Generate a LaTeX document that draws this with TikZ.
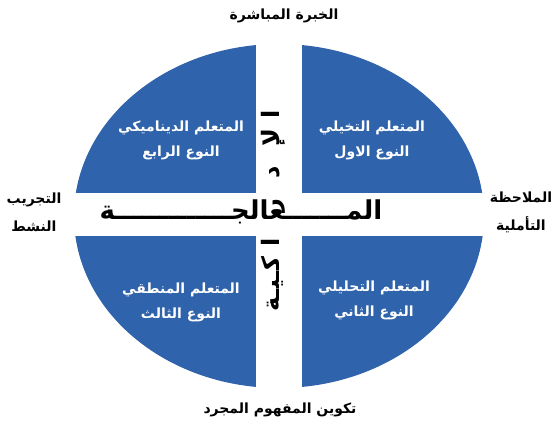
\documentclass[tikz,border=0pt]{standalone}
\usepackage{fontspec}
\newfontfamily\arabicfont[Script=Arabic]{DejaVu Sans}
\TeXXeTstate=1
\newcommand{\artxt}[1]{\beginR #1\endR}
\definecolor{kolbblue}{RGB}{47,99,171}

\begin{document}
\begin{tikzpicture}[
	x=1pt, y=-1pt,
	every node/.style={font=\arabicfont\bfseries, inner sep=1pt},
	quad/.style={fill=kolbblue},
	learner/.style={text=white, align=center, font=\arabicfont\bfseries\fontsize{14}{25}\selectfont},
	pole/.style={text=black, align=center, font=\arabicfont\bfseries\fontsize{14}{28}\selectfont},
	bigword/.style={text=black, font=\arabicfont\bfseries\fontsize{26}{28}\selectfont}
	]
	
	\useasboundingbox (0,0) rectangle (551,427);
	
	% ellipse split by a white cross
	\fill[quad] (279,216) ellipse [x radius=205pt, y radius=172pt];
	\fill[white] (256,0) rectangle (302,427);
	\fill[white] (0,193) rectangle (551,236);
	
	% four learner types
	\node[learner] (type1) at (372,140) {\artxt{المتعلم التخيلي}\\\artxt{النوع الاول}};
	\node[learner] (type4) at (181,140) {\artxt{المتعلم الديناميكي}\\\artxt{النوع الرابع}};
	\node[learner] (type3) at (181,302) {\artxt{المتعلم المنطقي}\\\artxt{النوع الثالث}};
	\node[learner] (type2) at (374,300) {\artxt{المتعلم التحليلي}\\\artxt{النوع الثاني}};
	
	% the four poles
	\node[pole] (concrete) at (284,16) {\artxt{الخبرة المباشرة}};
	\node[pole] (abstract) at (280,410) {\artxt{تكوين المفهوم المجرد}};
	\node[pole] (active) at (34,212) {\artxt{التجريب}\\\artxt{النشط}};
	\node[pole] (reflect) at (521,212) {\artxt{الملاحظة}\\\artxt{التأملية}};
	
	% processing axis words
	\node[bigword] (process) at (241,212) {\artxt{المـــــــعالجـــــــــــــة}};
	\node[bigword, font=\arabicfont\bfseries\fontsize{24}{26}\selectfont, rotate=90] (percept) at (273,211)
	{\artxt{ا\hspace{10pt}لإ\hspace{20pt}د\hspace{20pt}ر\hspace{26pt}ا\hspace{10pt}كـيـة}};
	
\end{tikzpicture}
\end{document}
